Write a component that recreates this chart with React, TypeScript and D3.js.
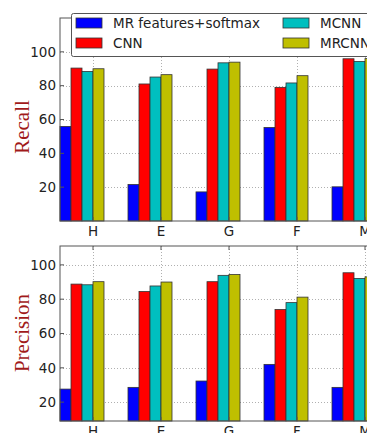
import * as d3 from "d3";
import { useEffect } from "react";

const categories = ["H", "E", "G", "F", "M"];
const seriesNames = ["MR features+softmax", "CNN", "MCNN", "MRCNN"];
const seriesColors = ["#0000ff", "#ff0000", "#00bfbf", "#bfbf00"];

// rows = series, columns = categories
const recall = [
  [55.9, 21.6, 17.2, 55.3, 20.2],
  [90.4, 81.0, 89.8, 79.0, 95.9],
  [88.4, 85.1, 93.5, 81.6, 94.3],
  [90.0, 86.5, 93.9, 85.9, 96.0],
];
const precision = [
  [27.6, 28.6, 32.3, 42.0, 28.6],
  [88.8, 84.5, 90.2, 74.0, 95.4],
  [88.4, 87.7, 93.9, 78.0, 92.1],
  [90.2, 90.0, 94.4, 81.2, 93.0],
];
const yTicks = [20, 40, 60, 80, 100];

const W = 367;
const H = 433;
const left = 60;
const right = 420;
const barW = 11;

const x = d3.scaleLinear().domain([0, 4]).range([93, 365]);

type PanelProps = {
  top: number;
  bottom: number;
  domain: [number, number];
  data: number[][];
  label: string;
  labelY: number;
};

const Panel = ({ top, bottom, domain, data, label, labelY }: PanelProps) => {
  const y = d3.scaleLinear().domain(domain).range([bottom, top]);
  return (
    <g>
      {/* grid */}
      {yTicks.map((t) => (
        <line
          key={"gy" + t}
          x1={left}
          x2={right}
          y1={Math.round(y(t)) + 0.5}
          y2={Math.round(y(t)) + 0.5}
          stroke="#b0b0b0"
          strokeWidth={1}
          strokeDasharray="1,2"
        />
      ))}
      {categories.map((c, i) => (
        <line
          key={"gx" + c}
          x1={Math.round(x(i)) + 0.5}
          x2={Math.round(x(i)) + 0.5}
          y1={top}
          y2={bottom}
          stroke="#b0b0b0"
          strokeWidth={1}
          strokeDasharray="1,2"
        />
      ))}
      {/* bars */}
      {data.map((row, s) =>
        row.map((v, i) => {
          const x0 = x(i) - 3 * barW + s * barW;
          return (
            <rect
              key={s + "-" + i}
              x={x0}
              y={y(v)}
              width={barW}
              height={bottom - y(v)}
              fill={seriesColors[s]}
              stroke="#333"
              strokeWidth={0.8}
            />
          );
        })
      )}
      {/* frame */}
      <rect
        x={left}
        y={top}
        width={right - left}
        height={bottom - top}
        fill="none"
        stroke="#555"
        strokeWidth={1}
      />
      {/* y ticks */}
      {yTicks.map((t) => (
        <g key={"yt" + t}>
          <line x1={left} x2={left + 4} y1={y(t)} y2={y(t)} stroke="#555" />
          <text
            x={left - 4}
            y={y(t)}
            dy="0.35em"
            textAnchor="end"
            fontSize={13.5}
            fontFamily="DejaVu Sans"
            fill="#222"
          >
            {t}
          </text>
        </g>
      ))}
      {/* x ticks */}
      {categories.map((c, i) => (
        <g key={"xt" + c}>
          <line x1={x(i)} x2={x(i)} y1={bottom} y2={bottom - 4} stroke="#555" />
          <line x1={x(i)} x2={x(i)} y1={top} y2={top + 4} stroke="#555" />
          <text
            x={x(i)}
            y={bottom + 15}
            textAnchor="middle"
            fontSize={13.5}
            fontFamily="DejaVu Sans"
            fill="#222"
          >
            {c}
          </text>
        </g>
      ))}
      <text
        transform={`translate(22,${labelY}) rotate(-90)`}
        textAnchor="middle"
        dy="0.35em"
        fontSize={21}
        fontFamily="Liberation Serif"
        fill="#a11a1a"
      >
        {label}
      </text>
    </g>
  );
};

const Legend = () => {
  const cols = [76, 283];
  const rows = [23, 43];
  return (
    <g>
      <rect x={71.5} y={13.5} width={330} height={43} fill="white" stroke="#555" strokeWidth={1} rx={2} />
      {seriesNames.map((n, i) => {
        const cx = cols[Math.floor(i / 2)];
        const cy = rows[i % 2];
        return (
          <g key={n}>
            <rect x={cx} y={cy - 5} width={26} height={10} fill={seriesColors[i]} stroke="#333" strokeWidth={0.8} />
            <text x={cx + 37} y={cy} dy="0.35em" fontSize={13.5} fontFamily="DejaVu Sans" fill="#222">
              {n}
            </text>
          </g>
        );
      })}
    </g>
  );
};

const App = () => {
  useEffect(() => {
    document.body.style.margin = "0";
  }, []);
  return (
    <svg width={W} height={H} style={{ position: "absolute", left: 0, top: 0, background: "white" }}>
      <rect width={W} height={H} fill="white" />
      <Panel top={18} bottom={221} domain={[0, 120]} data={recall} label="Recall" labelY={127} />
      <Panel top={246} bottom={421} domain={[9, 111]} data={precision} label="Precision" labelY={333} />
      <Legend />
    </svg>
  );
};

export default App;
